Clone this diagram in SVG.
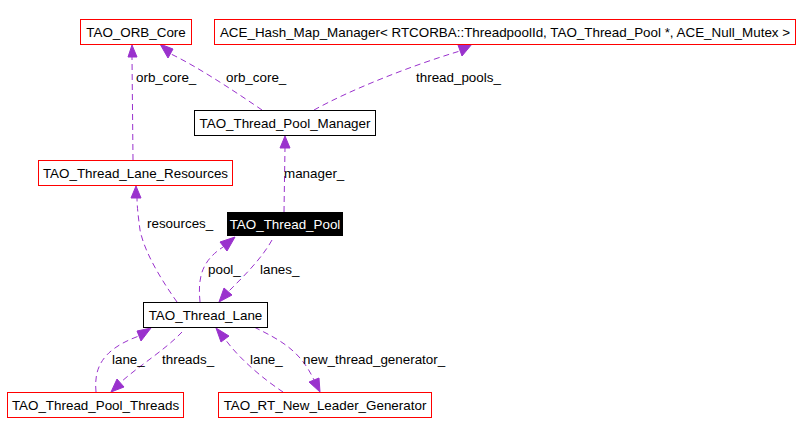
<svg xmlns="http://www.w3.org/2000/svg" width="802" height="435" viewBox="0 0 802 435">
<style>
.n rect{fill:#fff;stroke:#ff0000;stroke-width:1}
.n.b rect{stroke:#000}
.n.d rect{fill:#000;stroke:#000}
text{font-family:"Liberation Sans",Arial,sans-serif;font-size:13.4px;fill:#000}
.n text{text-anchor:middle}
.n.d text{fill:#fff}
.e path{fill:none;stroke:#9a32cd;stroke-width:1;stroke-dasharray:6,4}
.e polygon{fill:#9a32cd;stroke:#9a32cd}
</style>
<rect width="802" height="435" fill="#fff"/>
<g id="edges" class="e">
  <path d="M133,160 L132,57"/><polygon points="132,45 128,57 137,57"/>
  <path d="M262,110 C240,95 200,68 171,54"/><polygon points="160,44 173,49 168,58"/>
  <path d="M314,110 C350,90 410,66 460,51"/><polygon points="472,44 458,45 462,56"/>
  <path d="M284,212 L285,148"/><polygon points="285,136 280,148 290,148"/>
  <path d="M177,302 C165,285 145,255 140,230 C138,215 137,205 137,198"/><polygon points="136,186 131,198 141,198"/>
  <path d="M200,302 C198,280 200,262 223,247"/><polygon points="235,237 220,242 227,251"/>
  <path d="M272,240 C262,258 245,275 229,291"/><polygon points="219,302 224,288 232,295"/>
  <path d="M96,392 C94,370 100,350 139,336"/><polygon points="151,328 137,331 141,341"/>
  <path d="M182,332 C165,350 140,365 121,382"/><polygon points="111,392 117,379 124,387"/>
  <path d="M283,392 C265,380 240,360 225,339"/><polygon points="216,328 221,342 229,336"/>
  <path d="M254,327 C280,340 300,350 314,380"/><polygon points="320,392 309,382 319,378"/>
  <text x="136" y="82">orb_core_</text>
  <text x="226" y="82">orb_core_</text>
  <text x="416" y="82">thread_pools_</text>
  <text x="284" y="178">manager_</text>
  <text x="147" y="228">resources_</text>
  <text x="208" y="274">pool_</text>
  <text x="260" y="274">lanes_</text>
  <text x="112" y="364">lane_</text>
  <text x="162" y="364">threads_</text>
  <text x="250" y="364">lane_</text>
  <text x="303" y="364">new_thread_generator_</text>
</g>
<g id="TAO_ORB_Core" class="n"><rect x="80.5" y="19.5" width="111" height="25"/><text x="136" y="37">TAO_ORB_Core</text></g>
<g id="ACE_Hash_Map_Manager" class="n"><rect x="214.5" y="19.5" width="581" height="25"/><text x="505" y="37">ACE_Hash_Map_Manager&lt; RTCORBA::ThreadpoolId, TAO_Thread_Pool *, ACE_Null_Mutex &gt;</text></g>
<g id="TAO_Thread_Pool_Manager" class="n b"><rect x="194.5" y="110.5" width="181" height="25"/><text x="285" y="128">TAO_Thread_Pool_Manager</text></g>
<g id="TAO_Thread_Lane_Resources" class="n"><rect x="38.5" y="160.5" width="194" height="25"/><text x="135.5" y="178">TAO_Thread_Lane_Resources</text></g>
<g id="TAO_Thread_Pool" class="n d"><rect x="227.5" y="212.5" width="115" height="23"/><text x="285" y="229">TAO_Thread_Pool</text></g>
<g id="TAO_Thread_Lane" class="n b"><rect x="143.5" y="302.5" width="124" height="25"/><text x="205.5" y="320">TAO_Thread_Lane</text></g>
<g id="TAO_Thread_Pool_Threads" class="n"><rect x="7.5" y="392.5" width="176" height="25"/><text x="95.5" y="410">TAO_Thread_Pool_Threads</text></g>
<g id="TAO_RT_New_Leader_Generator" class="n"><rect x="218.5" y="392.5" width="213" height="25"/><text x="325" y="410">TAO_RT_New_Leader_Generator</text></g>
</svg>
